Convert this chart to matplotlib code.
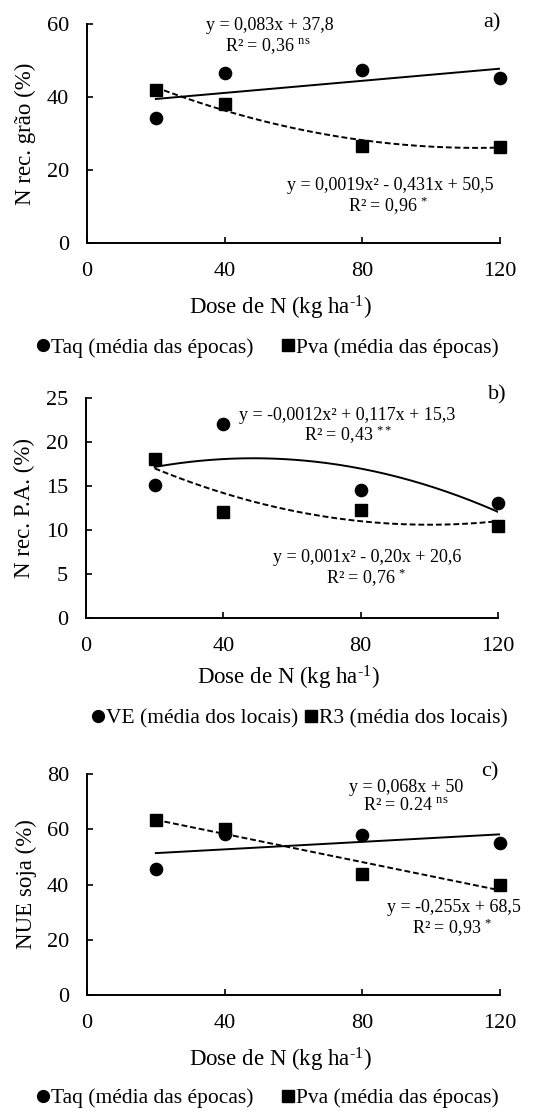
import matplotlib
matplotlib.use("Agg")
import matplotlib.pyplot as plt
from matplotlib.lines import Line2D
import numpy as np

plt.rcParams["font.family"] = ["Liberation Serif", "DejaVu Serif"]
plt.rcParams["mathtext.fontset"] = "custom"
plt.rcParams["mathtext.rm"] = "Liberation Serif"
plt.rcParams["mathtext.it"] = "Liberation Serif:italic"

W, H = 533, 1111

doses = [20, 40, 80, 120]

# a) N recovered in grain
taq_grao = [34.2, 46.5, 47.3, 45.3]
pva_grao = [41.8, 38.1, 26.7, 26.3]
taq_grao_fit = [0.083, 37.8]
pva_grao_fit = [0.0019, -0.431, 50.5]

# b) N recovered in shoot (P.A.)
ve_pa = [15.1, 22.0, 14.5, 13.1]
r3_pa = [18.1, 12.0, 12.3, 10.5]
ve_pa_fit = [-0.0012, 0.117, 15.3]
r3_pa_fit = [0.001, -0.20, 20.6]

# c) soybean NUE
taq_nue = [45.6, 58.4, 57.8, 55.2]
pva_nue = [63.4, 60.1, 43.7, 39.9]
taq_nue_fit = [0.068, 50]
pva_nue_fit = [-0.255, 68.5]

xticks = [0, 40, 80, 120]
xlabel = "Dose de N (kg ha$^{\\text{-1}}$)"

TICK_FS = 16
LABEL_FS = 16.5
EQ_FS = 13
LEG_FS = 15.5


def fxy(x, y):
    """pixel position -> figure fraction"""
    return x / W, 1 - y / H


def panel(fig, box, ymax, ystep, ylabel, ylabel_x, xlabel_xy, tag, tag_xy,
          circles, squares, circ_fit, sq_fit, circ_ls, sq_ls):
    left, top, right, bottom = box
    ax = fig.add_axes([left / W, 1 - bottom / H, (right - left) / W, (bottom - top) / H])
    ax.set_xlim(0, 120)
    ax.set_ylim(0, ymax)
    ax.set_xticks(xticks)
    ax.set_yticks(np.arange(0, ymax + 0.1, ystep))
    ax.yaxis.set_major_formatter(matplotlib.ticker.FormatStrFormatter("%d"))
    for s in ["top", "right"]:
        ax.spines[s].set_visible(False)
    for s in ["left", "bottom"]:
        ax.spines[s].set_linewidth(1.4)
    ax.tick_params(direction="in", length=4, width=1.2, labelsize=TICK_FS)
    ax.tick_params(axis="x", pad=14)
    ax.tick_params(axis="y", pad=13)

    xs = np.linspace(20, 120, 200)
    ax.plot(xs, np.polyval(circ_fit, xs), color="black", lw=1.4, ls=circ_ls, zorder=3)
    ax.plot(xs, np.polyval(sq_fit, xs), color="black", lw=1.4, ls=sq_ls, zorder=3)
    ax.plot(doses, circles, "o", color="black", ms=8.8, clip_on=False, zorder=2)
    ax.plot(doses, squares, "s", color="black", ms=8.5, clip_on=False, zorder=2)

    fig.text(*fxy(*xlabel_xy), xlabel, fontsize=LABEL_FS, ha="center", va="center")
    fig.text(*fxy(ylabel_x, (top + bottom) / 2), ylabel, fontsize=LABEL_FS,
             rotation=90, ha="center", va="center")
    fig.text(*fxy(*tag_xy), tag, fontsize=TICK_FS, ha="center", va="center")
    return ax


def legend(fig, ax, labels, center, colspace):
    handles = [Line2D([], [], marker="o", ls="none", color="black", ms=8.5),
               Line2D([], [], marker="s", ls="none", color="black", ms=8)]
    ax.legend(handles, labels, ncol=2, frameon=False, loc="center",
              bbox_to_anchor=fxy(*center), bbox_transform=fig.transFigure,
              fontsize=LEG_FS, handlelength=0.55, handletextpad=0.12,
              columnspacing=colspace, borderpad=0, borderaxespad=0)


def eq(fig, xy, text):
    fig.text(*fxy(*xy), text, fontsize=EQ_FS, ha="center", va="center")


fig = plt.figure(figsize=(W / 100, H / 100), dpi=100)

dash = (0, (3, 1.5))

# ---- a) ----
ax = panel(fig, (87, 24, 500, 243), 60, 20, "N rec. grão (%)", 25, (280, 308),
           "a)", (492, 23), taq_grao, pva_grao, taq_grao_fit, pva_grao_fit, "-", dash)
eq(fig, (270, 25), "y = 0,083x + 37,8")
eq(fig, (268, 46), "R² = 0,36 $^{\\mathrm{ns}}$")
eq(fig, (390, 185), "y = 0,0019x² - 0,431x + 50,5")
eq(fig, (388, 206), "R² = 0,96 $^{*}$")
legend(fig, ax, ["Taq (média das épocas)", "Pva (média das épocas)"], (268, 348), 1.3)

# ---- b) ----
ax = panel(fig, (86, 398, 498, 618), 25, 5, "N rec. P.A. (%)", 24, (288, 678),
           "b)", (497, 395), ve_pa, r3_pa, ve_pa_fit, r3_pa_fit, "-", dash)
eq(fig, (347, 416), "y = -0,0012x² + 0,117x + 15,3")
eq(fig, (348, 435), "R² = 0,43 $^{**}$")
eq(fig, (367, 558), "y = 0,001x² - 0,20x + 20,6")
eq(fig, (366, 578), "R² = 0,76 $^{*}$")
legend(fig, ax, ["VE (média dos locais)", "R3 (média dos locais)"], (300, 718), 0.3)

# ---- c) ----
ax = panel(fig, (87, 774, 500, 995), 80, 20, "NUE soja (%)", 26, (280, 1060),
           "c)", (490, 772), taq_nue, pva_nue, taq_nue_fit, pva_nue_fit, "-", dash)
eq(fig, (406, 787), "y = 0,068x + 50")
eq(fig, (406, 805), "R² = 0.24 $^{\\mathrm{ns}}$")
eq(fig, (454, 908), "y = -0,255x + 68,5")
eq(fig, (452, 928), "R² = 0,93 $^{*}$")
legend(fig, ax, ["Taq (média das épocas)", "Pva (média das épocas)"], (268, 1098), 1.3)

fig.savefig("out.png", dpi=100)
